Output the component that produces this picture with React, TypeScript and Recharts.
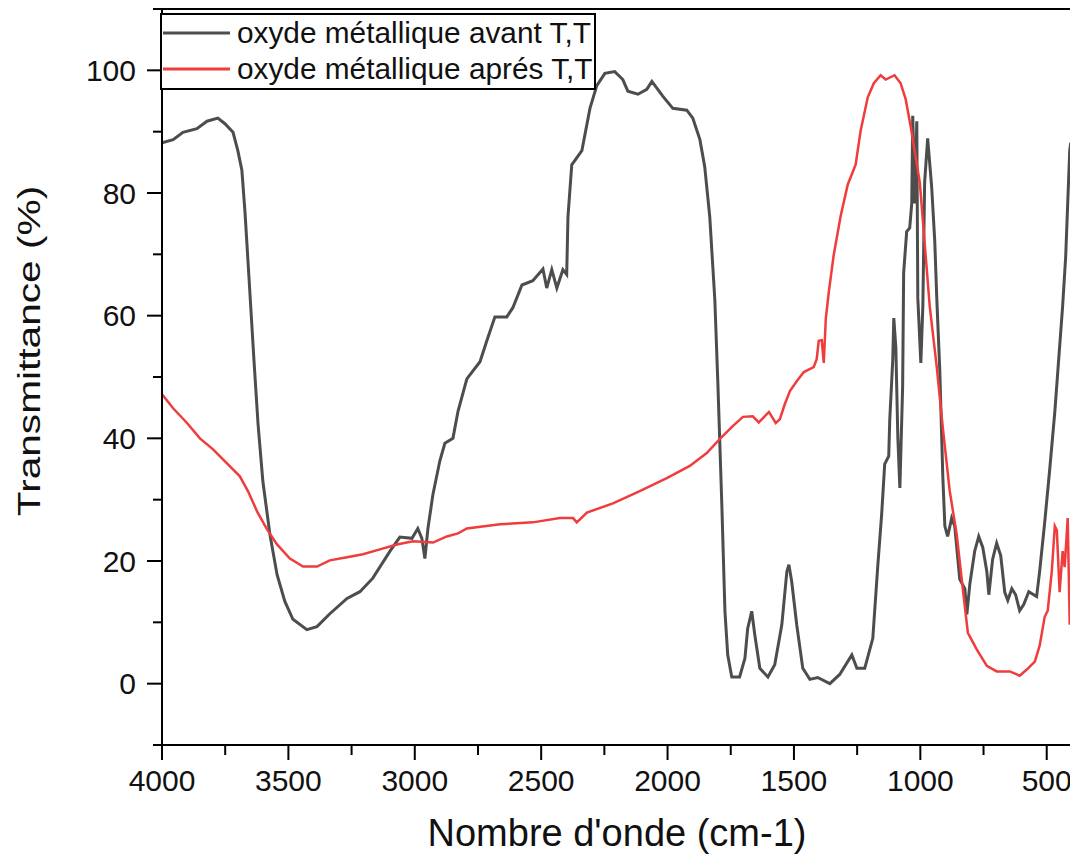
import React from "react";
import {
    LineChart,
    Line,
    XAxis,
    YAxis,
    Legend,
    Label,
    ReferenceArea
} from "recharts";

const FONT = "'Liberation Sans', Arial, sans-serif";

const SERIES_NAMES = ["oxyde métallique avant T,T", "oxyde métallique aprés T,T"];
const SERIES_COLORS = ["#4d4d4d", "#f03c3c"];

const X_TICKS = [4000, 3750, 3500, 3250, 3000, 2750, 2500, 2250, 2000, 1750, 1500, 1250, 1000, 750, 500];
const Y_TICKS = [-10, 0, 10, 20, 30, 40, 50, 60, 70, 80, 90, 100, 110];

// wavenumber (cm-1) / transmittance (%)
const AVANT_WN = [
    4000, 3956, 3917, 3862, 3822, 3779, 3751, 3719, 3700, 3684, 3672, 3660, 3648, 3636, 3620, 3601,
    3573, 3545, 3514, 3482, 3427, 3387, 3336, 3268, 3217, 3166, 3098, 3059, 3011, 2988, 2972, 2960,
    2948, 2928, 2901, 2881, 2849, 2829, 2794, 2742, 2715, 2683, 2636, 2612, 2576, 2533, 2493, 2478,
    2458, 2438, 2414, 2399, 2394, 2379, 2339, 2307, 2280, 2248, 2209, 2177, 2157, 2117, 2082, 2062,
    2019, 1979, 1924, 1900, 1872, 1853, 1833, 1813, 1801, 1785, 1773, 1762, 1746, 1715, 1694, 1683,
    1667, 1655, 1635, 1603, 1576, 1548, 1528, 1520, 1509, 1489, 1465, 1437, 1406, 1358, 1319, 1271,
    1251, 1220, 1188, 1168, 1153, 1141, 1125, 1121, 1109, 1105, 1097, 1089, 1081, 1070, 1066, 1054,
    1042, 1034, 1030, 1022, 1014, 1010, 998, 990, 983, 971, 955, 943, 935, 923, 911, 903,
    892, 876, 864, 844, 824, 816, 804, 785, 769, 753, 737, 729, 714, 698, 682, 666,
    654, 638, 623, 607, 591, 571, 540, 528, 508, 488, 468, 449, 437, 425, 417, 409, 405
];
const AVANT_T = [
    88.2, 88.7, 89.9, 90.5, 91.7, 92.2, 91.3, 89.9, 86.9, 83.7, 77.1, 69.0, 60.8, 52.6, 42.3, 33.0,
    24.3, 17.8, 13.4, 10.5, 8.8, 9.3, 11.4, 13.9, 15.0, 17.2, 21.6, 23.9, 23.7, 25.3, 23.7, 20.4,
    25.3, 30.9, 36.3, 39.2, 40.0, 44.4, 49.7, 52.5, 55.9, 59.8, 59.8, 61.3, 65.0, 65.7, 67.6, 64.5,
    67.5, 64.5, 67.5, 66.7, 76.1, 84.6, 86.9, 93.8, 97.5, 99.5, 99.8, 98.5, 96.6, 96.1, 96.9, 98.2,
    95.8, 93.8, 93.5, 92.2, 88.7, 84.3, 76.1, 62.6, 49.0, 28.8, 11.8, 4.7, 1.1, 1.1, 4.1, 9.0,
    11.8, 8.0, 2.5, 1.1, 3.1, 9.6, 18.3, 19.4, 16.7, 9.6, 2.5, 0.7, 1.0, 0.0, 1.5, 4.7,
    2.5, 2.5, 7.4, 19.4, 27.6, 35.8, 37.1, 43.0, 52.9, 59.6, 54.9, 40.2, 31.9, 48.4, 67.0, 73.7,
    74.3, 78.3, 92.6, 78.3, 91.7, 62.9, 52.3, 61.6, 81.7, 88.9, 80.9, 72.2, 62.9, 51.0, 33.7, 25.7,
    24.0, 27.0, 25.7, 17.0, 15.5, 11.3, 16.3, 21.6, 24.0, 22.2, 18.3, 14.5, 20.3, 22.9, 20.9, 14.9,
    13.6, 15.5, 14.5, 11.9, 12.9, 15.0, 14.2, 18.3, 26.3, 35.0, 44.3, 54.9, 61.6, 69.6, 78.3, 86.9, 88.2
];

const APRES_WN = [
    4000, 3956, 3901, 3850, 3798, 3743, 3692, 3660, 3624, 3585, 3545, 3494, 3442, 3387, 3336, 3268,
    3205, 3138, 3071, 3007, 2928, 2873, 2829, 2794, 2663, 2533, 2426, 2374, 2359, 2319, 2216, 2110,
    2003, 1912, 1845, 1793, 1742, 1702, 1663, 1639, 1599, 1572, 1556, 1536, 1516, 1489, 1461, 1422,
    1410, 1402, 1390, 1382, 1374, 1362, 1343, 1315, 1287, 1256, 1236, 1208, 1184, 1157, 1137, 1102,
    1078, 1058, 1038, 1002, 963, 935, 911, 884, 856, 832, 812, 777, 737, 698, 646, 607,
    579, 547, 528, 508, 496, 480, 468, 460, 449, 437, 429, 417, 409
];
const APRES_T = [
    47.2, 44.9, 42.5, 40.0, 38.2, 35.9, 33.8, 31.4, 28.1, 25.2, 22.7, 20.4, 19.1, 19.1, 20.1, 20.6,
    21.1, 21.9, 22.7, 23.2, 23.0, 24.0, 24.5, 25.3, 26.0, 26.3, 27.0, 27.0, 26.3, 27.9, 29.4, 31.4,
    33.5, 35.5, 37.6, 39.9, 42.0, 43.5, 43.6, 42.6, 44.3, 42.5, 43.1, 45.6, 47.7, 49.3, 50.8, 51.6,
    52.9, 55.9, 56.0, 52.3, 59.5, 63.9, 69.8, 76.3, 81.4, 84.6, 90.2, 95.6, 97.9, 99.2, 98.5, 99.2,
    97.9, 95.3, 90.8, 81.7, 61.6, 51.6, 41.7, 31.5, 24.3, 15.5, 8.3, 5.6, 2.9, 2.0, 2.0, 1.3,
    2.3, 3.6, 6.2, 10.9, 11.9, 18.3, 25.7, 25.0, 14.9, 21.6, 19.0, 27.0, 9.6
];

const avantData = AVANT_WN.map((wn, i) => ({ wn, t: AVANT_T[i] }));
const apresData = APRES_WN.map((wn, i) => ({ wn, t: APRES_T[i] }));

const YTick = (props: any) => {
    const { x, y, payload } = props;
    const major = payload.value % 20 === 0;
    const axisX = x + 15 + 11;
    return (
        <g>
            <line x1={axisX - (major ? 15 : 9)} x2={axisX} y1={y} y2={y} stroke="#000" strokeWidth={2} />
            {major && (
                <text x={x} y={y} dy="0.36em" textAnchor="end" fontFamily={FONT} fontSize={30} fill="#111">
                    {payload.value}
                </text>
            )}
        </g>
    );
};

const XTick = (props: any) => {
    const { x, y, payload } = props;
    const major = payload.value % 500 === 0;
    const axisY = y - 15 - 10;
    return (
        <g>
            <line x1={x} x2={x} y1={axisY} y2={axisY + (major ? 15 : 10)} stroke="#000" strokeWidth={2} />
            {major && (
                <text x={x} y={y} dy="0.71em" textAnchor="middle" fontFamily={FONT} fontSize={30} fill="#111">
                    {payload.value}
                </text>
            )}
        </g>
    );
};

function LegendBox() {
    return (
        <svg width={436} height={77} style={{ display: "block", background: "#fff" }}>
            <rect x={1} y={1} width={434} height={75} fill="#fff" stroke="#000" strokeWidth={2} />
            {SERIES_NAMES.map((name, i) => (
                <g key={name}>
                    <line x1={3} x2={70} y1={20 + i * 36} y2={20 + i * 36} stroke={SERIES_COLORS[i]} strokeWidth={3} />
                    <text x={77} y={30 + i * 36} fontFamily={FONT} fontSize={29.8} fill="#111">{name}</text>
                </g>
            ))}
        </svg>
    );
}

export default function App() {
    return (
        <LineChart width={1070} height={846} margin={{ top: 1, right: 6, left: 14, bottom: 9 }}>
            <XAxis
                dataKey="wn"
                type="number"
                domain={[400, 4000]}
                reversed
                allowDataOverflow
                ticks={X_TICKS}
                interval={0}
                tick={<XTick />}
                tickLine={false}
                tickSize={15}
                tickMargin={10}
                height={100}
                axisLine={{ stroke: "#000", strokeWidth: 2 }}
            >
                <Label
                    content={() => (
                        <text x={609} y={838} textAnchor="middle" fontFamily={FONT} fontSize={38} fill="#111">
                            Nombre d'onde (cm-1)
                        </text>
                    )}
                />
            </XAxis>
            <YAxis
                type="number"
                domain={[-10, 110]}
                allowDataOverflow
                ticks={Y_TICKS}
                interval={0}
                tick={<YTick />}
                tickLine={false}
                tickSize={15}
                tickMargin={11}
                width={140}
                axisLine={{ stroke: "#000", strokeWidth: 2 }}
            >
                <Label
                    content={() => (
                        <text
                            transform="translate(21,343) rotate(-90) scale(1.27,1)"
                            textAnchor="middle"
                            dominantBaseline="central"
                            fontFamily={FONT}
                            fontSize={32}
                            fill="#111"
                        >
                            Transmittance (%)
                        </text>
                    )}
                />
            </YAxis>
            <ReferenceArea x1={400} x2={4000} y1={-10} y2={110} fill="none" stroke="#000" strokeWidth={2} ifOverflow="visible" />
            <Line
                data={avantData}
                dataKey="t"
                name={SERIES_NAMES[0]}
                type="linear"
                stroke={SERIES_COLORS[0]}
                strokeWidth={3}
                dot={false}
                isAnimationActive={false}
            />
            <Line
                data={apresData}
                dataKey="t"
                name={SERIES_NAMES[1]}
                type="linear"
                stroke={SERIES_COLORS[1]}
                strokeWidth={2.5}
                dot={false}
                isAnimationActive={false}
            />
            <Legend
                layout="vertical"
                align="center"
                verticalAlign="middle"
                wrapperStyle={{ top: 5, left: 152, width: 436, height: 77 }}
                content={() => <LegendBox />}
            />
        </LineChart>
    );
}
